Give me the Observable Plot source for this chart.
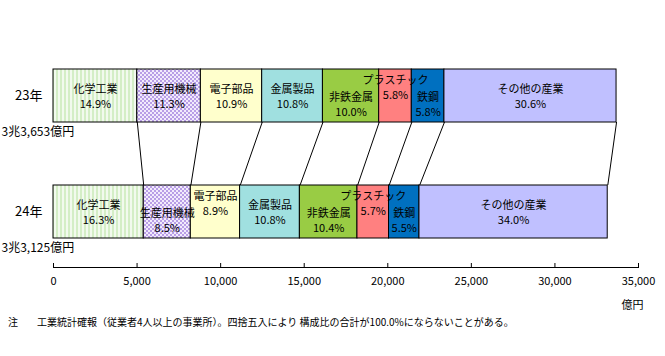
<!DOCTYPE html>
<html><head><meta charset="utf-8">
<script src="https://cdn.jsdelivr.net/npm/d3@7"></script>
<script src="https://cdn.jsdelivr.net/npm/@observablehq/plot@0.6"></script>
<style>
body{margin:0;background:#fff;}
#wrap{position:relative;width:665px;height:356px;font-family:"Noto Sans CJK JP",sans-serif;}
#note{position:absolute;left:8px;top:315px;font-size:10px;line-height:14px;white-space:nowrap;color:#000;}
#note .k{display:inline-block;width:29px;}
</style></head><body>
<div id="wrap"><div id="chart"></div><div id="note"><span class="k">注</span>工業統計確報（従業者4人以上の事業所）。四捨五入により 構成比の合計が100.0%にならないことがある。</div></div>
<script>
// ---- data ----
const years = ["23年", "24年"];
const totals = [33653, 33125];
const totalLabels = ["3兆3,653億円", "3兆3,125億円"];
const categories = ["化学工業", "生産用機械", "電子部品", "金属製品", "非鉄金属", "プラスチック", "鉄鋼", "その他の産業"];
const share23 = [14.9, 11.3, 10.9, 10.8, 10.0, 5.8, 5.8, 30.6];
const share24 = [16.3, 8.5, 8.9, 10.8, 10.4, 5.7, 5.5, 34.0];
const xTicks = [0, 5000, 10000, 15000, 20000, 25000, 30000, 35000];
const unitLabel = "億円";

// ---- styling / layout ----
const fills = ["url(#pat-stripe)", "url(#pat-dots)", "#FFFFCC", "#A0E0E0", "#99CC44", "#FF8080", "#0070C0", "#C0C0FF"];
const placement = {
  "23年": ["mid", "mid", "mid", "mid", "low", "high", "low", "mid"],
  "24年": ["mid", "low", "high", "mid", "low", "high", "low", "mid"]
};
const placementDy = {mid: -0.5, low: 8, high: -9.5};
const paddingInner = 0.547, paddingOuter = 0.248;

const shares = [share23, share24];
const rows = years.flatMap((year, yi) => categories.map((category, ci) => ({
  year, category, share: shares[yi][ci],
  value: totals[yi] * shares[yi][ci] / 100,
  place: placement[year][ci]
})));

// connector lines between the bars' segment boundaries
const bounds = years.map((y, yi) => Array.from(d3.cumsum(shares[yi].map(s => totals[yi] * s / 100))));
const r = (1 - paddingInner) / (2 * paddingInner);
const links = categories.map((c, ci) => {
  const a = bounds[0][ci], b = bounds[1][ci];
  return {x1: a - (b - a) * r, x2: b + (b - a) * r};
});

const textMarks = Object.entries(placementDy).map(([cls, dy]) =>
  Plot.text(rows, Plot.stackX({
    x: "value", y: "year",
    text: d => d.place === cls ? `${d.category}\n${d.share.toFixed(1)}%` : null,
    dy, lineAnchor: "middle", lineHeight: 1.35, fontSize: 11, fill: "black"
  }))
);

const chart = Plot.plot({
  width: 665, height: 356,
  marginTop: 39, marginBottom: 89, marginLeft: 53, marginRight: 27,
  style: {fontFamily: '"Noto Sans CJK JP", sans-serif', fontSize: "11px", color: "black", background: "white"},
  x: {domain: [0, 35000]},
  y: {domain: years, paddingInner, paddingOuter},
  color: {domain: categories, range: fills},
  marks: [
    Plot.frame({anchor: "bottom", stroke: "black"}),
    Plot.axisX({ticks: xTicks, tickFormat: d3.format(","), tickSize: -4, tickPadding: 14, label: null, fontSize: 11}),
    Plot.text([unitLabel], {frameAnchor: "bottom-right", text: d => d, textAnchor: "end", dx: 5, dy: 41, fontSize: 11, fill: "black"}),
    Plot.axisY({tickSize: 0, tickPadding: 11, fontSize: 13, label: null}),
    Plot.link(links, {x1: "x1", x2: "x2", y1: () => years[0], y2: () => years[1], stroke: "black", strokeWidth: 1}),
    Plot.barX(rows, {x: "value", y: "year", fill: "category", stroke: "black", strokeWidth: 1}),
    ...textMarks,
    Plot.text(years, {x: () => 0, y: d => d, text: (d, i) => totalLabels[i], textAnchor: "start", dx: -52, dy: 36, fontSize: 12, fill: "black"})
  ]
});

const svg = d3.select(chart);
const defs = svg.insert("defs", ":first-child");
const stripe = defs.append("pattern").attr("id", "pat-stripe").attr("patternUnits", "userSpaceOnUse").attr("width", 4).attr("height", 4);
stripe.append("rect").attr("width", 4).attr("height", 4).attr("fill", "#F2FAEE");
stripe.append("rect").attr("width", 2).attr("height", 4).attr("fill", "#D4EEC6");
const dots = defs.append("pattern").attr("id", "pat-dots").attr("patternUnits", "userSpaceOnUse").attr("width", 4).attr("height", 4);
dots.append("rect").attr("width", 4).attr("height", 4).attr("fill", "#F2EBFC");
dots.append("rect").attr("x", 0).attr("y", 0).attr("width", 2).attr("height", 2).attr("fill", "#B89EE6");
dots.append("rect").attr("x", 2).attr("y", 2).attr("width", 2).attr("height", 2).attr("fill", "#B89EE6");

// clip connector lines to the gap between the two bars (from the y scale)
const ys = chart.scale("y");
const gapTop = ys.apply(years[0]) + ys.bandwidth;
const gapBottom = ys.apply(years[1]);
defs.append("clipPath").attr("id", "gap-clip").append("rect")
  .attr("x", 0).attr("y", gapTop).attr("width", 665).attr("height", gapBottom - gapTop);
const linkG = svg.select('g[aria-label="link"]').node();
if (linkG) {
  const wrapper = document.createElementNS("http://www.w3.org/2000/svg", "g");
  wrapper.setAttribute("clip-path", "url(#gap-clip)");
  linkG.parentNode.insertBefore(wrapper, linkG);
  wrapper.appendChild(linkG);
}

document.getElementById("chart").appendChild(chart);
</script>
</body></html>
